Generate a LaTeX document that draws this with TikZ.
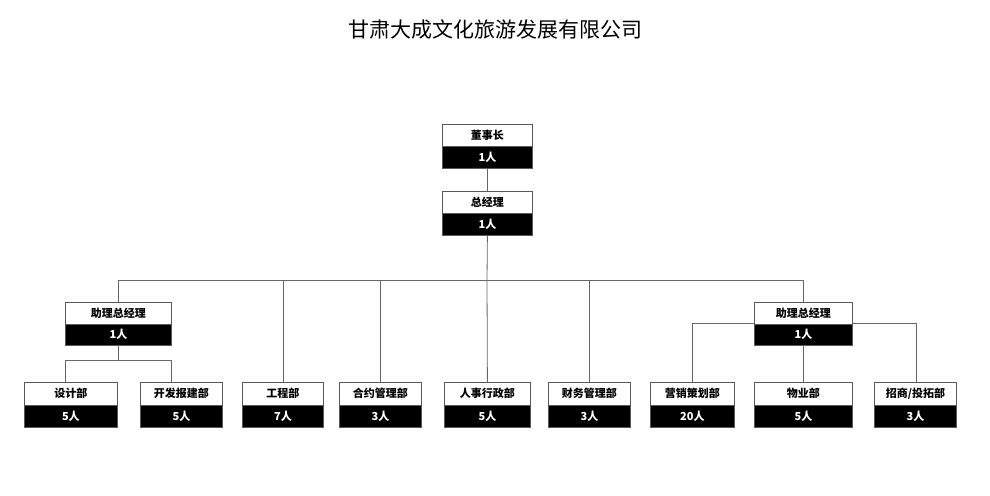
\documentclass[tikz,border=0pt]{standalone}
\usepackage{fontspec}
\setmainfont{Noto Sans CJK SC}
\begin{document}
\begin{tikzpicture}[x=1pt,y=-1pt,
  ln/.style={draw=gray!80!black,line width=0.8pt},
  top/.style={draw=gray!70!black,fill=white,line width=0.8pt,inner sep=0pt,font=\bfseries\fontsize{11}{12}\selectfont},
  bot/.style={draw=gray!70!black,fill=black,text=white,line width=0.8pt,inner sep=0pt,font=\bfseries\fontsize{11}{12}\selectfont}]
\useasboundingbox (0,0) rectangle (990,495);
\node at (495,30) {\fontsize{21}{24}\selectfont 甘肃大成文化旅游发展有限公司};
\newcommand{\obox}[7]{% name x1 x2 y1 y2 label count
  \node[top,minimum width=#3-#2,minimum height=(#5-#4)/2,anchor=north west] (#1t) at (#2,#4) {#6};
  \node[bot,minimum width=#3-#2,minimum height=(#5-#4)/2,anchor=north west] (#1) at (#2,{(#4+#5)/2}) {#7};
}
\obox{a}{442}{532}{124}{168}{董事长}{1人}
\obox{b}{442}{532}{191}{235}{总经理}{1人}
\obox{c}{65}{171}{302}{345}{助理总经理}{1人}
\obox{d}{754}{852}{302}{345}{助理总经理}{1人}
\obox{e1}{24}{117}{382}{427}{设计部}{5人}
\obox{e2}{140}{222}{382}{427}{开发报建部}{5人}
\obox{e3}{242}{323}{382}{427}{工程部}{7人}
\obox{e4}{339}{421}{382}{427}{合约管理部}{3人}
\obox{e5}{444}{530}{382}{427}{人事行政部}{5人}
\obox{e6}{548}{630}{382}{427}{财务管理部}{3人}
\obox{e7}{650}{734}{382}{427}{营销策划部}{20人}
\obox{e8}{754}{852}{382}{427}{物业部}{5人}
\obox{e9}{874}{956}{382}{427}{招商/投拓部}{3人}
\coordinate (h) at (487,280);
\draw[ln] (a.south) -- (bt.north);
\draw[ln] (b.south) -- (h);
\draw[ln] (118,280) -- (803,280);
\draw[ln] (118,280) -- (118,302);
\draw[ln] (803,280) -- (803,302);
\draw[ln] (283,280) -- (283,382);
\draw[ln] (380,280) -- (380,382);
\draw[ln] (h) -- (e5t.north);
\draw[ln] (589,280) -- (589,382);
\draw[ln] (118,345) -- (118,360);
\draw[ln] (65,382) -- (65,360) -- (171,360) -- (171,382);
\draw[ln] (692,382) -- (692,323) -- (754,323);
\draw[ln] (852,323) -- (916,323) -- (916,382);
\draw[ln] (803,345) -- (803,382);
\end{tikzpicture}
\end{document}
